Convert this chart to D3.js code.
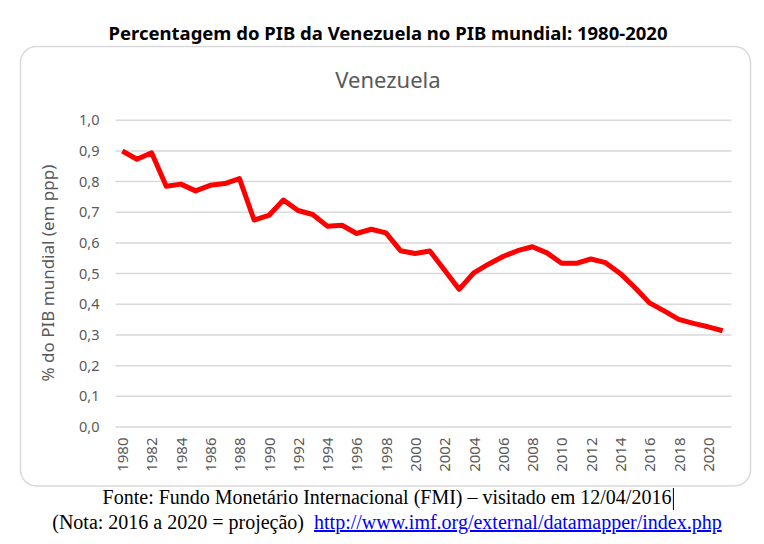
<!DOCTYPE html>
<html>
<head>
<meta charset="utf-8">
<script src="https://cdn.jsdelivr.net/npm/d3@7"></script>
<style>
  html, body { margin: 0; padding: 0; background: #ffffff; }
  svg { display: block; }
</style>
</head>
<body>
<svg id="chart" width="764" height="544"></svg>
<script>
// ---- data ----
const years = [1980,1981,1982,1983,1984,1985,1986,1987,1988,1989,1990,1991,1992,1993,1994,1995,1996,1997,1998,1999,2000,2001,2002,2003,2004,2005,2006,2007,2008,2009,2010,2011,2012,2013,2014,2015,2016,2017,2018,2019,2020,2021];
const shareValues = [0.898,0.871,0.892,0.783,0.790,0.768,0.786,0.792,0.808,0.673,0.688,0.738,0.704,0.691,0.653,0.656,0.629,0.643,0.631,0.573,0.564,0.572,0.510,0.447,0.501,0.529,0.554,0.573,0.586,0.566,0.532,0.532,0.546,0.534,0.499,0.453,0.403,0.377,0.349,0.336,0.325,0.312];
const xTickLabels = [1980,1982,1984,1986,1988,1990,1992,1994,1996,1998,2000,2002,2004,2006,2008,2010,2012,2014,2016,2018,2020];
const yTickValues = [0,0.1,0.2,0.3,0.4,0.5,0.6,0.7,0.8,0.9,1.0];

const mainTitle = "Percentagem do PIB da Venezuela no PIB mundial: 1980-2020";
const chartTitle = "Venezuela";
const yAxisTitle = "% do PIB mundial (em ppp)";
const sourceLine = "Fonte: Fundo Monetário Internacional (FMI) – visitado em 12/04/2016";
const noteText = "(Nota: 2016 a 2020 = projeção)";
const linkText = "http://www.imf.org/external/datamapper/index.php";

// ---- layout ----
const svg = d3.select("#chart");
const plot = { left: 115, right: 730, top: 119.7, bottom: 426.5 };
const sansFont = "'Noto Sans', 'Open Sans', sans-serif";
const serifFont = "'Liberation Serif', 'DejaVu Serif', serif";
const grey = "#595959";

const x = d3.scalePoint().domain(years).range([plot.left, plot.right]).padding(0.5);
const y = d3.scaleLinear().domain([0, 1]).range([plot.bottom, plot.top]);

const locale = d3.formatLocale({ decimal: ",", thousands: ".", grouping: [3], currency: ["", ""] });
const fmt = locale.format(".1f");

// main title
svg.append("text")
  .attr("x", 388).attr("y", 39.5)
  .attr("text-anchor", "middle")
  .style("font-family", sansFont)
  .style("font-weight", "bold")
  .style("font-size", "18.5px")
  .attr("fill", "#000")
  .text(mainTitle);

// chart box
svg.append("rect")
  .attr("x", 20.5).attr("y", 46.5)
  .attr("width", 730).attr("height", 439.5)
  .attr("rx", 16).attr("ry", 16)
  .attr("fill", "#fff")
  .attr("stroke", "#d9d9d9")
  .attr("stroke-width", 1.5);

// chart title
svg.append("text")
  .attr("x", 388).attr("y", 88)
  .attr("text-anchor", "middle")
  .style("font-family", sansFont)
  .style("font-size", "22px")
  .attr("fill", grey)
  .text(chartTitle);

// y axis with gridlines
const yAxis = d3.axisLeft(y)
  .tickValues(yTickValues)
  .tickSize(-(plot.right - plot.left + 1))
  .tickPadding(16)
  .tickFormat(fmt);

const gy = svg.append("g")
  .attr("transform", `translate(${plot.left + 0.5},0)`)
  .call(yAxis);
gy.select(".domain").remove();
gy.selectAll(".tick line").attr("stroke", "#d9d9d9").attr("stroke-width", 1.5);
gy.selectAll(".tick text")
  .attr("fill", grey)
  .style("font-family", sansFont)
  .style("font-size", "14.5px")
  .attr("dy", "0.35em");

// x axis labels
const xAxis = d3.axisBottom(x)
  .tickValues(xTickLabels)
  .tickSize(0)
  .tickFormat(d3.format("d"));
const gx = svg.append("g")
  .attr("transform", `translate(0,${plot.bottom})`)
  .call(xAxis);
gx.select(".domain").remove();
gx.selectAll(".tick text")
  .attr("fill", grey)
  .style("font-family", sansFont)
  .style("font-size", "15px")
  .attr("text-anchor", "end")
  .attr("transform", "rotate(-90)")
  .attr("x", -11)
  .attr("y", 0)
  .attr("dy", "0.35em");

// y axis title
svg.append("text")
  .attr("transform", `translate(54,${(plot.top + plot.bottom) / 2}) rotate(-90)`)
  .attr("text-anchor", "middle")
  .style("font-family", sansFont)
  .style("font-size", "17px")
  .attr("fill", grey)
  .text(yAxisTitle);

// line
const line = d3.line()
  .x((d, i) => x(years[i]))
  .y(d => y(d));
svg.append("path")
  .datum(shareValues)
  .attr("d", line)
  .attr("fill", "none")
  .attr("stroke", "#ff0000")
  .attr("stroke-width", 5)
  .attr("stroke-linejoin", "round")
  .attr("stroke-linecap", "butt");

// footer
const src = svg.append("text")
  .attr("x", 387).attr("y", 504)
  .attr("text-anchor", "middle")
  .style("font-family", serifFont)
  .style("font-size", "20px")
  .attr("fill", "#000")
  .text(sourceLine);
const bb = src.node().getBBox();
svg.append("line")
  .attr("x1", bb.x + bb.width + 2).attr("x2", bb.x + bb.width + 2)
  .attr("y1", 488).attr("y2", 510)
  .attr("stroke", "#000").attr("stroke-width", 1);

const note = svg.append("text")
  .attr("x", 387).attr("y", 529)
  .attr("text-anchor", "middle")
  .style("font-family", serifFont)
  .style("font-size", "20px")
  .attr("fill", "#000");
note.append("tspan").text(noteText + "\u00a0\u00a0");
note.append("tspan")
  .attr("fill", "#0000ff")
  .style("text-decoration", "underline")
  .text(linkText);
</script>
</body>
</html>
